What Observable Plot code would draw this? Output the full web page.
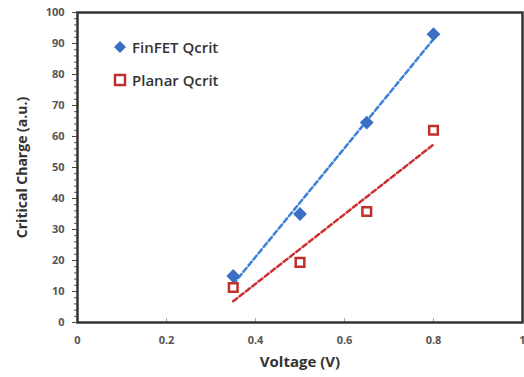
<!DOCTYPE html>
<html><head><meta charset="utf-8">
<script src="https://cdn.jsdelivr.net/npm/d3@7"></script>
<script src="https://cdn.jsdelivr.net/npm/@observablehq/plot@0.6"></script>
<style>
body{margin:0;background:#fff;font-family:"Open Sans",sans-serif;}
#wrap{position:relative;width:524px;height:377px;}
.leg{position:absolute;font:600 15px "Open Sans",sans-serif;color:#333;display:flex;align-items:center;}
.leg svg{margin-right:5px;}
</style></head><body>
<div id="wrap"></div>
<script>
const voltage = [0.35, 0.5, 0.65, 0.8];
const finfet = [15, 35, 64.5, 93];
const planar = [11.3, 19.4, 35.8, 62];
const xTicks = [0, 0.2, 0.4, 0.6, 0.8, 1];
const yTicks = [0,10,20,30,40,50,60,70,80,90,100];
const seriesNames = ["FinFET Qcrit", "Planar Qcrit"];

const fin = voltage.map((v,i)=>({x:v,y:finfet[i]}));
const pla = voltage.map((v,i)=>({x:v,y:planar[i]}));
const blue = "#3a6fc4", red = "#c0302b";

const squareDiamond = {
  draw(context, size) {
    const r = Math.sqrt(size / Math.PI) * 1.15;
    context.moveTo(0, -r); context.lineTo(r, 0); context.lineTo(0, r); context.lineTo(-r, 0); context.closePath();
  }
};

const chart = Plot.plot({
  width: 524, height: 377,
  marginLeft: 77, marginTop: 12, marginRight: 2, marginBottom: 55,
  style: {fontFamily: "'Open Sans', sans-serif", color: "#444", background: "#fff"},
  x: {domain: [0, 1]},
  y: {domain: [0, 100]},
  marks: [
    Plot.axisY(d3.range(0, 101, 2), {tickSize: 3, text: null, label: null, stroke: "#555"}),
    Plot.axisY(yTicks, {tickSize: 5, tickPadding: 8, fontSize: 11, fontWeight: "bold", fill: "#555",
      label: "Critical Charge (a.u.)", labelAnchor: "center", labelArrow: "none", labelOffset: 60}),
    Plot.axisX(xTicks, {tickSize: 0, tickPadding: 14, fontSize: 11, fontWeight: "bold", fill: "#555",
      tickFormat: d => String(d), label: "Voltage (V)", labelAnchor: "center", labelArrow: "none", labelOffset: 44}),
    Plot.ruleX(xTicks.slice(1, -1), {y1: 0, y2: 1.3, stroke: "#aaa"}),
    Plot.frame({stroke: "#333", strokeWidth: 2.5}),
    Plot.linearRegressionY(fin, {x: "x", y: "y", ci: 0, stroke: "#3b80d9", strokeWidth: 2.5, strokeDasharray: "5,3"}),
    Plot.linearRegressionY(pla, {x: "x", y: "y", ci: 0, stroke: "#cc3030", strokeWidth: 2.5, strokeDasharray: "5,3"}),
    Plot.dot(fin, {x: "x", y: "y", symbol: squareDiamond, r: 6, fill: blue, stroke: "none"}),
    Plot.dot(pla, {x: "x", y: "y", symbol: "square2", r: 5.5, stroke: red, strokeWidth: 2.5, fill: "#fff"})
  ]
});
const wrap = document.getElementById("wrap");
wrap.appendChild(chart);
chart.querySelectorAll("g[aria-label='y-axis label'] text, g[aria-label='x-axis label'] text").forEach(t=>{
  t.setAttribute("font-weight","bold"); t.setAttribute("fill","#333");
});
chart.querySelectorAll("g[aria-label='y-axis label'] text").forEach(t=>t.setAttribute("font-size","14"));
chart.querySelectorAll("g[aria-label='x-axis label'] text").forEach(t=>t.setAttribute("font-size","15"));

const legs = [
  {name: seriesNames[0], top: 37, sym: `<svg width="14" height="14"><path d="M7 1 L13 7 L7 13 L1 7Z" fill="${blue}"/></svg>`},
  {name: seriesNames[1], top: 70, sym: `<svg width="14" height="14"><rect x="2" y="2" width="10" height="10" fill="#fff" stroke="${red}" stroke-width="2.5"/></svg>`}
];
legs.forEach(l=>{
  const d = document.createElement("div");
  d.className = "leg"; d.style.left = "113px"; d.style.top = l.top + "px";
  d.innerHTML = l.sym + "<span>" + l.name + "</span>";
  wrap.appendChild(d);
});
</script>
</body></html>
